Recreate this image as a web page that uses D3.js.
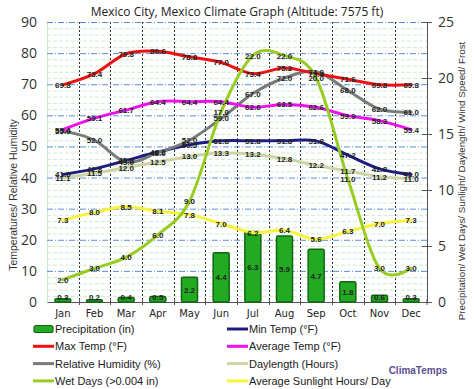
<!DOCTYPE html>
<html>
<head>
<meta charset="utf-8">
<script src="https://cdn.jsdelivr.net/npm/d3@7"></script>
<style>
  html, body { margin: 0; padding: 0; background: #fff; }
  svg { display: block; }
</style>
</head>
<body>
<div id="chart"></div>
<script>
const MONTHS = ['Jan', 'Feb', 'Mar', 'Apr', 'May', 'Jun', 'Jul', 'Aug', 'Sep', 'Oct', 'Nov', 'Dec'];

// left axis (°F / %)
const MAX_TEMP = [69.8, 73.4, 79.8, 80.6, 78.8, 77.0, 73.4, 75.2, 73.4, 71.6, 69.8, 69.8];
const AVG_TEMP = [55.4, 59.1, 61.7, 64.4, 64.4, 64.4, 62.6, 63.5, 62.6, 59.9, 58.3, 55.4];
const MIN_TEMP = [41.0, 42.8, 45.5, 48.2, 50.5, 51.8, 51.8, 51.8, 51.8, 47.2, 42.8, 41.0];
const HUMIDITY = [55.0, 52.0, 45.0, 48.0, 52.0, 59.0, 67.0, 72.0, 74.0, 68.0, 62.0, 61.0];

// right axis
const PRECIP    = [0.3, 0.2, 0.4, 0.5, 2.2, 4.4, 6.3, 5.9, 4.7, 1.8, 0.6, 0.3];
const WET_DAYS  = [2.0, 3.0, 4.0, 6.0, 9.0, 17.0, 22.0, 22.0, 20.0, 11.0, 3.0, 3.0];
const DAYLENGTH = [11.1, 11.5, 12.0, 12.5, 13.0, 13.3, 13.2, 12.8, 12.2, 11.7, 11.2, 11.0];
const SUNLIGHT  = [7.3, 8.0, 8.5, 8.1, 7.8, 7.0, 6.2, 6.4, 5.6, 6.3, 7.0, 7.3];

const LEFT_TICKS  = [0, 10, 20, 30, 40, 50, 60, 70, 80, 90];
const RIGHT_TICKS = [0, 5, 10, 15, 20, 25];

const W = 474, H = 389;
const plot = { left: 47, right: 427, top: 22, bottom: 302 };

const svg = d3.select('#chart').append('svg').attr('width', W).attr('height', H)
  .style('font-family', 'Arial, "Liberation Sans", sans-serif');

const x = d3.scaleBand().domain(MONTHS).range([plot.left, plot.right]);
const yL = d3.scaleLinear().domain([0, 90]).range([plot.bottom, plot.top]);
const yR = d3.scaleLinear().domain([0, 25]).range([plot.bottom, plot.top]);
const cx = m => x(m) + x.bandwidth() / 2;

// Title
svg.append('text').attr('x', 237).attr('y', 16).attr('text-anchor', 'middle')
  .style('font-family', '"Open Sans", sans-serif').style('font-size', '12px').attr('fill', '#222')
  .text('Mexico City, Mexico Climate Graph (Altitude: 7575 ft)');

// Minor grid (light green dashed)
const g = svg.append('g');
g.selectAll('.minor').data(d3.range(2, 90, 2).filter(v => v % 10 !== 0)).join('line')
  .attr('x1', plot.left).attr('x2', plot.right)
  .attr('y1', d => yL(d) + 0.5).attr('y2', d => yL(d) + 0.5)
  .attr('stroke', '#cdeccd').attr('stroke-dasharray', '4,2');

// Left edge light line
g.append('line').attr('x1', plot.left + 0.5).attr('x2', plot.left + 0.5)
  .attr('y1', plot.top).attr('y2', plot.bottom).attr('stroke', '#cdeccd');

// Major grid (blue dash-dot)
g.selectAll('.major').data(LEFT_TICKS.filter(v => v > 0)).join('line')
  .attr('x1', plot.left).attr('x2', plot.right)
  .attr('y1', d => yL(d) + 0.5).attr('y2', d => yL(d) + 0.5)
  .attr('stroke', '#5b8fd6').attr('stroke-dasharray', '6,2,1,2');

// Vertical dotted month separators
g.selectAll('.vsep').data(MONTHS.slice(1)).join('line')
  .attr('x1', d => Math.round(x(d)) + 0.5).attr('x2', d => Math.round(x(d)) + 0.5)
  .attr('y1', plot.top).attr('y2', plot.bottom)
  .attr('stroke', '#333').attr('stroke-dasharray', '2,2');

// Left axis labels
svg.append('g')
  .attr('transform', `translate(${plot.left},0)`)
  .call(d3.axisLeft(yL).tickValues(LEFT_TICKS).tickSize(0).tickPadding(10))
  .call(ax => ax.select('.domain').remove())
  .call(ax => ax.selectAll('text').attr('fill', '#333').style('font-size', '14px')
    .style('font-family', '"Open Sans", sans-serif'));

// Right axis
svg.append('g')
  .attr('transform', `translate(${plot.right},0)`)
  .call(d3.axisRight(yR).tickValues(RIGHT_TICKS).tickSize(5).tickPadding(6).tickSizeOuter(0))
  .call(ax => ax.select('.domain').attr('stroke', '#555'))
  .call(ax => ax.selectAll('.tick line').attr('stroke', '#555').attr('x1', -5))
  .call(ax => ax.selectAll('text').attr('fill', '#333').style('font-size', '14px')
    .style('font-family', '"Open Sans", sans-serif'));

// Bottom axis
svg.append('g')
  .attr('transform', `translate(0,${plot.bottom})`)
  .call(d3.axisBottom(x).tickSize(0).tickPadding(8))
  .call(ax => ax.select('.domain').attr('stroke', '#555'))
  .call(ax => ax.selectAll('text').attr('fill', '#222').style('font-size', '10px')
    .style('font-family', '"DejaVu Sans", sans-serif'));
svg.append('g').selectAll('line').data(MONTHS.slice(1).concat(['end'])).join('line')
  .attr('x1', d => d === 'end' ? plot.right : Math.round(x(d)) + 0.5)
  .attr('x2', d => d === 'end' ? plot.right : Math.round(x(d)) + 0.5)
  .attr('y1', plot.bottom - 3).attr('y2', plot.bottom + 3).attr('stroke', '#555');

// Axis titles
svg.append('text').attr('transform', 'translate(17,195) rotate(-90)').attr('text-anchor', 'middle')
  .style('font-size', '10.5px').attr('fill', '#333').text('Temperatures/ Relative Humidity');
svg.append('text').attr('transform', 'translate(465,181) rotate(-90)').attr('text-anchor', 'middle')
  .style('font-size', '9.8px').attr('fill', '#333')
  .text('Precipitation/ Wet Days/ Sunlight/ Daylength/ Wind Speed/ Frost');

// Precipitation bars
const barW = 16;
svg.append('g').selectAll('rect').data(PRECIP).join('rect')
  .attr('x', (d, i) => cx(MONTHS[i]) - barW / 2)
  .attr('y', d => yR(d))
  .attr('width', barW)
  .attr('height', d => plot.bottom - yR(d))
  .attr('rx', 1.5)
  .attr('fill', '#22aa22').attr('stroke', '#116611').attr('stroke-width', 1.5);

// Lines
const SERIES = [
  { key: 'Daylength', values: DAYLENGTH, y: yR, color: '#cdd4a4' },
  { key: 'Sunlight',  values: SUNLIGHT,  y: yR, color: '#f8f43a' },
  { key: 'Min',       values: MIN_TEMP,  y: yL, color: '#1c1c82' },
  { key: 'Humidity',  values: HUMIDITY,  y: yL, color: '#7a7a7a' },
  { key: 'Avg',       values: AVG_TEMP,  y: yL, color: '#ee11ee' },
  { key: 'Max',       values: MAX_TEMP,  y: yL, color: '#ee1111' },
  { key: 'Wet',       values: WET_DAYS,  y: yR, color: '#99cc22' },
];

const lineG = svg.append('g');
for (const s of SERIES) {
  const line = d3.line().x((d, i) => cx(MONTHS[i])).y(d => s.y(d)).curve(d3.curveCatmullRom.alpha(0));
  lineG.append('path').datum(s.values).attr('d', line)
    .attr('fill', 'none').attr('stroke', s.color).attr('stroke-width', 3).attr('stroke-linecap', 'round');
}

// Data labels
const labelG = svg.append('g').style('font-size', '8px').style('font-weight', 'bold').attr('fill', '#222');
labelG.selectAll('.pl').data(PRECIP).join('text')
  .attr('x', (d, i) => cx(MONTHS[i]))
  .attr('y', d => Math.min((yR(d) + plot.bottom) / 2, plot.bottom - 5) + 3)
  .attr('text-anchor', 'middle').text(d => d.toFixed(1));
for (const s of SERIES) {
  labelG.append('g').selectAll('text').data(s.values).join('text')
    .attr('x', (d, i) => cx(MONTHS[i]))
    .attr('y', d => s.y(d) + 3)
    .attr('text-anchor', 'middle').text(d => d.toFixed(1));
}

// Legend
const LEGEND = [
  { label: 'Precipitation (in)', color: '#22aa22', bar: true, col: 0, row: 0 },
  { label: 'Min Temp (°F)', color: '#1c1c82', col: 1, row: 0 },
  { label: 'Max Temp (°F)', color: '#ee1111', col: 0, row: 1 },
  { label: 'Average Temp (°F)', color: '#ee11ee', col: 1, row: 1 },
  { label: 'Relative Humidity (%)', color: '#7a7a7a', col: 0, row: 2 },
  { label: 'Daylength (Hours)', color: '#cdd4a4', col: 1, row: 2 },
  { label: 'Wet Days (>0.004 in)', color: '#99cc22', col: 0, row: 3 },
  { label: 'Average Sunlight Hours/ Day', color: '#f8f43a', col: 1, row: 3 },
];
const legG = svg.append('g');
for (const l of LEGEND) {
  const lx = l.col === 0 ? 33 : 227;
  const ly = 329 + l.row * 17.3;
  if (l.bar) {
    legG.append('rect').attr('x', lx + 1).attr('y', ly - 3.5).attr('width', 19).attr('height', 7).attr('rx', 2)
      .attr('fill', l.color).attr('stroke', '#116611').attr('stroke-width', 1.2);
  } else {
    legG.append('line').attr('x1', lx).attr('x2', lx + 21).attr('y1', ly).attr('y2', ly)
      .attr('stroke', l.color).attr('stroke-width', 3);
  }
  legG.append('text').attr('x', lx + 22).attr('y', ly + 4).style('font-size', '11px').attr('fill', '#222')
    .text(l.label);
}

svg.append('text').attr('x', 418).attr('y', 374).attr('text-anchor', 'middle')
  .style('font-size', '10px').style('font-weight', 'bold').attr('fill', '#5b4f8f').text('ClimaTemps');
</script>
</body>
</html>
